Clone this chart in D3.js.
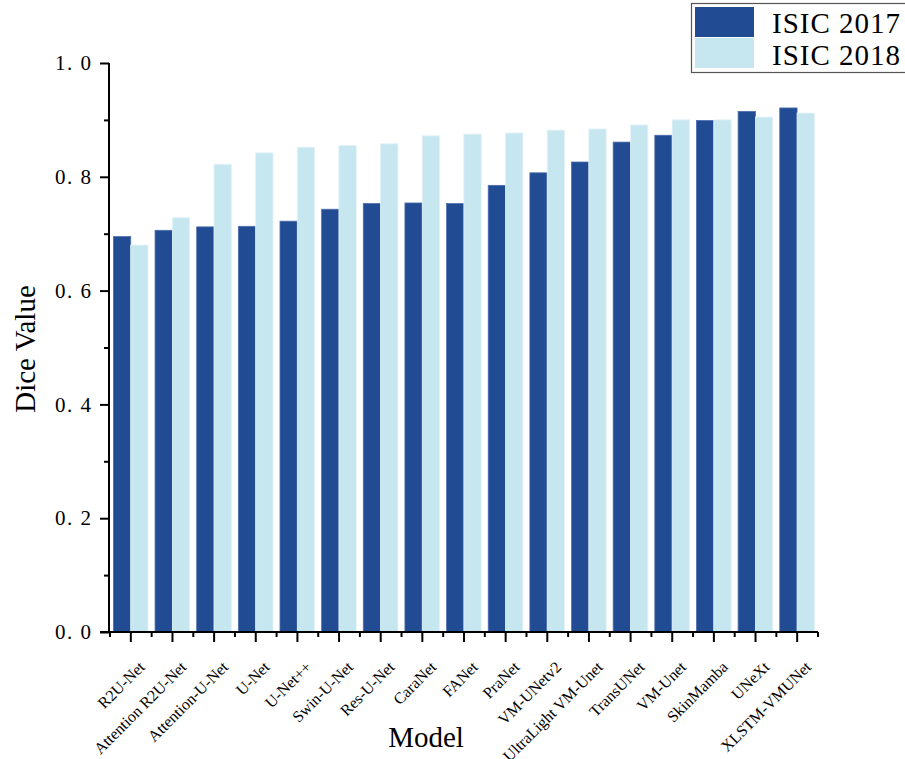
<!DOCTYPE html>
<html><head><meta charset="utf-8">
<script src="https://cdn.jsdelivr.net/npm/d3@7"></script>
<style>
body{margin:0;background:#fff;}
text{font-family:"Liberation Serif","Times New Roman",serif;fill:#000;}
</style></head>
<body>
<svg id="c" width="905" height="759"></svg>
<script>
const models = ["R2U-Net","Attention R2U-Net","Attention-U-Net","U-Net","U-Net++","Swin-U-Net","Res-U-Net","CaraNet","FANet","PraNet","VM-UNetv2","UltraLight VM-Unet","TransUNet","VM-Unet","SkinMamba","UNeXt","XLSTM-VMUNet"];
const series = ["ISIC 2017","ISIC 2018"];
const isic2017 = [0.695,0.706,0.712,0.713,0.722,0.743,0.753,0.754,0.753,0.785,0.807,0.826,0.861,0.873,0.899,0.915,0.921];
const isic2018 = [0.680,0.728,0.822,0.842,0.852,0.855,0.858,0.872,0.875,0.877,0.882,0.884,0.891,0.900,0.900,0.905,0.912];
const yMajor = [0,0.2,0.4,0.6,0.8,1.0];
const yMinor = [0.1,0.3,0.5,0.7,0.9];
const colors = ["#214b93","#c6e6f0"];
const strokes = ["#4d6fae","#e2f2f7"];

const svg = d3.select("#c");
const x = d3.scaleBand().domain(models).range([110, 818]).padding(0);
const xs = d3.scaleBand().domain(series).range([3.4, x.bandwidth()-3.6]).padding(0);
const y = d3.scaleLinear().domain([0,1]).range([632, 63]);

const data = models.map((m,i)=>({model:m, vals:[isic2017[i], isic2018[i]]}));

// bars
const g = svg.append("g");
const grp = g.selectAll("g.grp").data(data).join("g")
  .attr("transform", d=>`translate(${x(d.model)},0)`);
grp.selectAll("rect").data(d=>d.vals.map((v,k)=>({s:series[k],v,k}))).join("rect")
  .attr("x", d=>xs(d.s)).attr("width", xs.bandwidth())
  .attr("y", d=>y(d.v)).attr("height", d=>y(0)-y(d.v))
  .attr("fill", d=>colors[d.k]).attr("stroke", d=>strokes[d.k]).attr("stroke-width",0.8);

// y axis
const fmt = d3.format(".1f");
const yAx = svg.append("g").attr("transform","translate(109,0)")
  .call(d3.axisLeft(y).tickValues(yMajor).tickSize(9).tickPadding(9).tickFormat(d=>fmt(d).replace(".", ". ")));
yAx.attr("font-family", null);
yAx.select(".domain").attr("stroke-width",2).attr("d", `M0,${y(0)}V${y(1)}`);
yAx.selectAll(".tick line").attr("stroke-width",2);
yAx.selectAll(".tick text").style("font-size","21px").attr("textLength",36).attr("lengthAdjust","spacing");
svg.append("g").attr("transform","translate(109,0)")
  .call(d3.axisLeft(y).tickValues(yMinor).tickSize(5).tickFormat(""))
  .call(s=>{s.select(".domain").remove(); s.selectAll(".tick line").attr("stroke-width",2);});

// x axis
const xAx = svg.append("g").attr("transform",`translate(0,${y(0)})`)
  .call(d3.axisBottom(x).tickSize(10).tickSizeOuter(0).tickFormat(""));
xAx.select(".domain").attr("stroke-width",2).attr("d", `M100,0H818`);
xAx.selectAll(".tick line").attr("stroke-width",2);
const bounds = models.map(m=>x(m)).concat([x.range()[1]]);
xAx.selectAll("line.minor").data(bounds).join("line").attr("class","minor")
  .attr("x1",d=>d).attr("x2",d=>d).attr("y1",0).attr("y2",5)
  .attr("stroke","#000").attr("stroke-width",2);

// x labels
svg.append("g").selectAll("text").data(models).join("text")
  .attr("transform", d=>`translate(${x(d)+x.bandwidth()/2+15},668) rotate(-45)`)
  .attr("text-anchor","end").style("font-size","16px").text(d=>d);

// axis titles
svg.append("text").attr("transform","translate(35,349) rotate(-90)")
  .attr("text-anchor","middle").style("font-size","29px").text("Dice Value");
svg.append("text").attr("x",426).attr("y",747)
  .attr("text-anchor","middle").style("font-size","29px").text("Model");

// legend
const lg = svg.append("g");
lg.append("rect").attr("x",691.5).attr("y",3.5).attr("width",230).attr("height",69)
  .attr("fill","#fff").attr("stroke","#555").attr("stroke-width",1.2);
series.forEach((s,k)=>{
  lg.append("rect").attr("x",695).attr("y",7+k*31).attr("width",59).attr("height",30)
    .attr("fill",colors[k]);
  lg.append("text").attr("x",772).attr("y",33+k*32).style("font-size","29px")
    .attr("textLength",128).attr("lengthAdjust","spacing").text(s);
});
</script>
</body></html>
